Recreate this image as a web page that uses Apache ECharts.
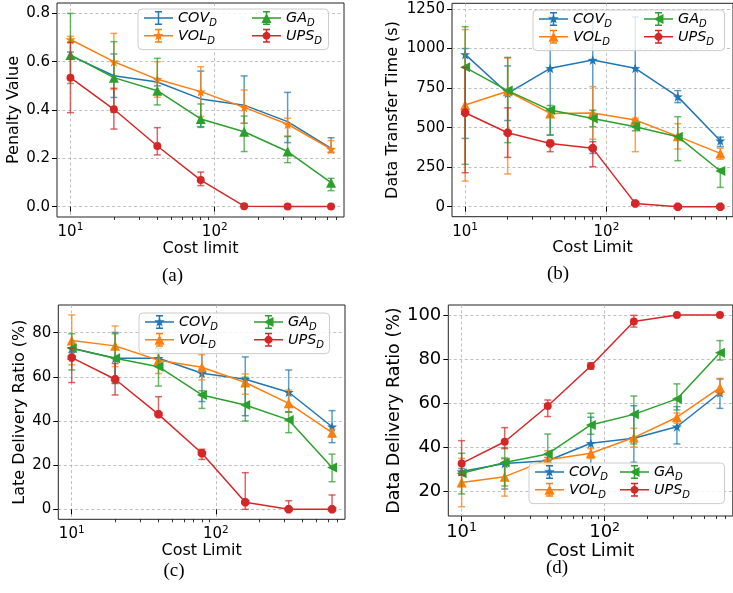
<!DOCTYPE html>
<html><head><meta charset="utf-8">
<script src="https://cdn.jsdelivr.net/npm/echarts@6/dist/echarts.min.js"></script>
<style>html,body{margin:0;padding:0;background:#fff}#c{width:733px;height:593px}</style>
</head><body><div id="c"></div>
<script>
// ---------- data ----------
const costLimits = [10, 20, 40, 80, 160, 320, 640];
const xMajorTicks = [10, 100];
const xMinorTicks = [20, 30, 40, 50, 60, 70, 80, 90, 200, 300, 400, 500, 600, 700];
const methods = ['COV', 'VOL', 'GA', 'UPS'];

// (a) Penalty Value
const penaltyTicks = [0, 0.2, 0.4, 0.6, 0.8];
const penCOV   = [0.625, 0.542, 0.516, 0.446, 0.420, 0.352, 0.241];
const penCOVLo = [0.610, 0.452, 0.500, 0.331, 0.345, 0.265, 0.225];
const penCOVHi = [0.640, 0.632, 0.530, 0.561, 0.541, 0.473, 0.285];
const penVOL   = [0.692, 0.600, 0.527, 0.476, 0.411, 0.341, 0.238];
const penVOLLo = [0.680, 0.485, 0.453, 0.373, 0.345, 0.292, 0.223];
const penVOLHi = [0.705, 0.717, 0.600, 0.579, 0.483, 0.366, 0.273];
const penGA    = [0.628, 0.534, 0.480, 0.363, 0.310, 0.228, 0.099];
const penGALo  = [0.510, 0.390, 0.421, 0.328, 0.228, 0.182, 0.066];
const penGAHi  = [0.800, 0.683, 0.614, 0.425, 0.375, 0.290, 0.117];
const penUPS   = [0.534, 0.403, 0.251, 0.110, 0.002, 0.000, 0.000];
const penUPSLo = [0.389, 0.321, 0.214, 0.087, 0.000, 0.000, 0.000];
const penUPSHi = [0.680, 0.490, 0.327, 0.143, 0.004, 0.000, 0.000];

// (b) Data Transfer Time (s)
const timeTicks = [0, 250, 500, 750, 1000, 1250];
const timeCOV   = [963, 717, 875, 927, 875, 696, 417];
const timeCOVLo = [432, 545, 453, 337, 548, 658, 380];
const timeCOVHi = [1000, 890, 1200, 1200, 1200, 734, 440];
const timeVOL   = [643, 730, 590, 593, 548, 445, 337];
const timeVOLLo = [162, 207, 570, 427, 348, 365, 300];
const timeVOLHi = [1120, 940, 610, 759, 560, 525, 370];
const timeGA    = [881, 734, 611, 558, 506, 443, 226];
const timeGALo  = [268, 405, 453, 506, 480, 291, 122];
const timeGAHi  = [1138, 944, 640, 610, 530, 569, 240];
const timeUPS   = [594, 468, 400, 369, 21, 0, 0];
const timeUPSLo = [215, 312, 348, 253, 8, 0, 0];
const timeUPSHi = [880, 625, 420, 411, 34, 5, 5];

// (c) Late Delivery Ratio (%)
const lateTicks = [0, 20, 40, 60, 80];
const lateCOV   = [72.9, 68.4, 68.4, 61.6, 58.9, 53.0, 37.4];
const lateCOVLo = [71.0, 57.0, 66.0, 48.8, 42.4, 44.2, 30.2];
const lateCOVHi = [75.0, 80.1, 71.0, 74.0, 69.0, 63.1, 44.7];
const lateVOL   = [76.4, 74.0, 67.5, 64.3, 57.4, 48.0, 34.7];
const lateVOLLo = [65.4, 64.6, 61.5, 58.6, 52.1, 44.0, 33.2];
const lateVOLHi = [88.0, 83.0, 73.0, 70.0, 61.3, 54.0, 36.2];
const lateGA    = [72.9, 68.4, 64.6, 51.8, 47.2, 40.5, 18.9];
const lateGALo  = [63.1, 57.0, 55.8, 45.7, 40.0, 34.7, 12.5];
const lateGAHi  = [79.5, 79.5, 73.0, 53.7, 59.8, 44.0, 25.0];
const lateUPS   = [68.7, 58.9, 43.0, 25.4, 3.2, 0.0, 0.0];
const lateUPSLo = [57.4, 51.8, 42.0, 22.6, 0.0, 0.0, 0.0];
const lateUPSHi = [73.0, 66.0, 51.0, 27.2, 16.6, 3.9, 6.5];

// (d) Data Delivery Ratio (%)
const deliveryTicks = [20, 40, 60, 80, 100];
const delCOV   = [29.1, 32.8, 34.0, 41.9, 44.2, 49.4, 64.8];
const delCOVLo = [27.5, 21.2, 32.5, 30.0, 33.3, 41.6, 57.7];
const delCOVHi = [30.5, 35.0, 35.5, 53.7, 58.9, 58.5, 71.0];
const delVOL   = [24.2, 26.8, 34.5, 37.4, 44.5, 53.7, 67.1];
const delVOLLo = [13.2, 18.0, 30.0, 35.0, 40.2, 51.0, 64.0];
const delVOLHi = [35.1, 35.4, 38.5, 39.5, 48.7, 55.6, 71.3];
const delGA    = [28.3, 33.2, 37.1, 50.2, 55.0, 62.0, 82.9];
const delGALo  = [19.0, 22.6, 28.0, 46.0, 41.6, 57.0, 79.6];
const delGAHi  = [37.4, 40.0, 46.1, 55.5, 63.3, 68.8, 88.4];
const delUPS   = [32.8, 42.6, 58.8, 76.9, 97.0, 100, 100];
const delUPSLo = [27.5, 39.5, 54.0, 75.5, 94.5, 100, 100];
const delUPSHi = [43.1, 49.0, 61.5, 78.3, 99.8, 100, 100];

const panelData = {
  a: {COV: [penCOV, penCOVLo, penCOVHi], VOL: [penVOL, penVOLLo, penVOLHi], GA: [penGA, penGALo, penGAHi], UPS: [penUPS, penUPSLo, penUPSHi]},
  b: {COV: [timeCOV, timeCOVLo, timeCOVHi], VOL: [timeVOL, timeVOLLo, timeVOLHi], GA: [timeGA, timeGALo, timeGAHi], UPS: [timeUPS, timeUPSLo, timeUPSHi]},
  c: {COV: [lateCOV, lateCOVLo, lateCOVHi], VOL: [lateVOL, lateVOLLo, lateVOLHi], GA: [lateGA, lateGALo, lateGAHi], UPS: [lateUPS, lateUPSLo, lateUPSHi]},
  d: {COV: [delCOV, delCOVLo, delCOVHi], VOL: [delVOL, delVOLLo, delVOLHi], GA: [delGA, delGALo, delGAHi], UPS: [delUPS, delUPSLo, delUPSHi]}
};

// ---------- style / layout ----------
const colors = {COV: '#1f77b4', VOL: '#ff7f0e', GA: '#2ca02c', UPS: '#d62728'};
const SANS = 'DejaVu Sans';
const X_MIN = 8.07, X_MAX = 787;
const LEG_FS = 14.4, LEG_SUB_FS = 10;

const panels = [
  {id: 'a', grid: {left: 57, top: 3, width: 287, height: 214}, yMin: -0.043, yMax: 0.843, yTicks: penaltyTicks,
   yFmt: v => v.toFixed(1), yName: 'Penalty Value', xName: 'Cost limit', tickFs: 15, nameFs: 16,
   yGap: 35, xGap: 22, legend: {left: 138, top: 9, width: 198, col2: 114}, caption: [172.5, 276],
   markers: {COV: 'none', VOL: 'star', GA: 'triUp', UPS: 'circle'}},
  {id: 'b', grid: {left: 452, top: 3.3, width: 286.5, height: 213.4}, yMin: -63, yMax: 1286, yTicks: timeTicks,
   yFmt: v => String(v), yName: 'Data Transfer Time (s)', xName: 'Cost Limit', tickFs: 15, nameFs: 16,
   yGap: 51, xGap: 22, legend: {left: 533, top: 10, width: 199, col2: 111}, caption: [558, 274],
   markers: {COV: 'star', VOL: 'triUp', GA: 'triLeft', UPS: 'octagon'}},
  {id: 'c', grid: {left: 58.3, top: 305, width: 286.7, height: 214.3}, yMin: -4.5, yMax: 92.5, yTicks: lateTicks,
   yFmt: v => String(v), yName: 'Late Delivery Ratio (%)', xName: 'Cost Limit', tickFs: 15, nameFs: 16,
   yGap: 30, xGap: 23, legend: {left: 139, top: 313, width: 198, col2: 115}, caption: [174, 571.5],
   markers: {COV: 'star', VOL: 'triUp', GA: 'triLeft', UPS: 'octagon'}},
  {id: 'd', grid: {left: 448.3, top: 305, width: 284.5, height: 211}, yMin: 9.0, yMax: 104.5, yTicks: deliveryTicks,
   yFmt: v => String(v), yName: 'Data Delivery Ratio (%)', xName: 'Cost Limit', tickFs: 18, nameFs: 17.5,
   yGap: 43, xGap: 24, legend: {left: 529, top: 463, width: 203, col2: 91}, caption: [557, 568.5],
   markers: {COV: 'star', VOL: 'triUp', GA: 'triLeft', UPS: 'circle'}}
];

// ---------- marker shapes ----------
function polyPath(pts) { return 'M' + pts.map(p => p[0].toFixed(2) + ',' + p[1].toFixed(2)).join('L') + 'Z'; }
function starPts(cx, cy, ro, ri) {
  const pts = [];
  for (let i = 0; i < 10; i++) {
    const a = -Math.PI / 2 + i * Math.PI / 5;
    const r = i % 2 === 0 ? ro : ri;
    pts.push([cx + r * Math.cos(a), cy + r * Math.sin(a)]);
  }
  return pts;
}
function ngonPts(cx, cy, r, n, off) {
  const pts = [];
  for (let i = 0; i < n; i++) {
    const a = off + i * 2 * Math.PI / n;
    pts.push([cx + r * Math.cos(a), cy + r * Math.sin(a)]);
  }
  return pts;
}
function markerPts(kind, cx, cy, s) {
  if (kind === 'star') return starPts(cx, cy, s, s * 0.4);
  if (kind === 'triUp') return [[cx, cy - s], [cx + s, cy + s], [cx - s, cy + s]];
  if (kind === 'triLeft') return [[cx - s, cy], [cx + s, cy - s], [cx + s, cy + s]];
  if (kind === 'circle') return ngonPts(cx, cy, s * 0.85, 24, 0);
  if (kind === 'octagon') return ngonPts(cx, cy, s * 0.9, 8, Math.PI / 8);
  return null;
}
const seriesSymbol = {
  star: 'path://' + polyPath(starPts(50, 50, 50, 20)),
  triUp: 'triangle',
  triLeft: 'path://' + polyPath([[0, 50], [100, 0], [100, 100]]),
  circle: 'circle',
  octagon: 'path://' + polyPath(ngonPts(50, 50, 50, 8, Math.PI / 8)),
  none: 'none'
};
const seriesSymbolSize = {star: 10, triUp: 10, triLeft: 10, circle: 8, octagon: 8.5, none: 0};

// legend handle: line + errorbar + marker, box 29 x 14
function rect(x0, y0, x1, y1) { return polyPath([[x0, y0], [x1, y0], [x1, y1], [x0, y1]]); }
function handleIcon(kind) {
  let p = rect(0, 6.25, 29, 7.75) + rect(13.75, 0, 15.25, 14) + rect(11, 0, 18, 1.5) + rect(11, 12.5, 18, 14);
  const sizes = {star: 5.5, triUp: 5, triLeft: 5, circle: 4.6, octagon: 4.6};
  const mp = markerPts(kind, 14.5, 7, sizes[kind]);
  if (mp) p += polyPath(mp);
  return 'path://' + p;
}

// text measuring (for legend box width)
const mctx = document.createElement('canvas').getContext('2d');
function textW(t, fs) { mctx.font = 'italic ' + fs + 'px "' + SANS + '"'; return mctx.measureText(t).width; }

// ---------- build option ----------
const grids = [], xAxes = [], yAxes = [], series = [], legends = [], graphics = [];
const legendRich = {
  m: {fontFamily: SANS, fontStyle: 'italic', fontSize: LEG_FS, lineHeight: 21.6, color: '#000'},
  s: {fontFamily: SANS, fontStyle: 'italic', fontSize: LEG_SUB_FS, lineHeight: 12, verticalAlign: 'bottom', color: '#000'}
};

panels.forEach((P, i) => {
  grids.push(Object.assign({show: true, borderColor: '#222', borderWidth: 1, backgroundColor: 'transparent', containLabel: false}, P.grid));
  const supFs = Math.round(P.tickFs * 0.7 * 10) / 10;
  xAxes.push({
    type: 'log', logBase: 10, gridIndex: i, min: X_MIN, max: X_MAX, position: 'bottom',
    name: P.xName, nameLocation: 'middle', nameGap: P.xGap,
    nameTextStyle: {fontFamily: SANS, fontSize: P.nameFs, color: '#000'},
    axisLine: {show: false},
    axisTick: {show: true, customValues: xMajorTicks, length: 5, lineStyle: {color: '#000', width: 1}},
    axisLabel: {show: true, customValues: xMajorTicks, margin: 5, color: '#000',
      formatter: v => '{b|10}{e|' + Math.round(Math.log10(v)) + '}',
      rich: {b: {fontFamily: SANS, fontSize: P.tickFs, lineHeight: P.tickFs + 5, color: '#000'},
             e: {fontFamily: SANS, fontSize: supFs, lineHeight: supFs + 1, verticalAlign: 'top', color: '#000'}}},
    splitLine: {show: true, lineStyle: {color: '#b0b0b0', width: 0.8, type: [3, 2.5]}},
    minorTick: {show: false}
  });
  yAxes.push({
    type: 'value', gridIndex: i, min: P.yMin, max: P.yMax,
    name: P.yName, nameLocation: 'middle', nameGap: P.yGap,
    nameTextStyle: {fontFamily: SANS, fontSize: P.nameFs, color: '#000'},
    axisLine: {show: false},
    axisTick: {show: true, customValues: P.yTicks, length: 5, lineStyle: {color: '#000', width: 1}},
    axisLabel: {show: true, customValues: P.yTicks, margin: 7, color: '#000', fontFamily: SANS, fontSize: P.tickFs, formatter: P.yFmt},
    splitLine: {show: true, lineStyle: {color: '#b0b0b0', width: 0.8, type: [3, 2.5]}}
  });

  methods.forEach((m, k) => {
    const [vals, lo, hi] = panelData[P.id][m];
    const col = colors[m];
    series.push({
      type: 'custom', name: m + '_' + P.id + '_err', xAxisIndex: i, yAxisIndex: i,
      z: 2 + 2 * k, silent: true,
      data: costLimits.map((x, j) => [x, lo[j], hi[j]]),
      encode: {x: 0, y: [1, 2]},
      renderItem: (params, api) => {
        const a = api.coord([api.value(0), api.value(1)]);
        const b = api.coord([api.value(0), api.value(2)]);
        const hw = 3.5;
        const st = {stroke: col, lineWidth: 1.5, opacity: 0.72};
        return {type: 'group', children: [
          {type: 'line', shape: {x1: a[0], y1: a[1], x2: b[0], y2: b[1]}, style: st},
          {type: 'line', shape: {x1: a[0] - hw, y1: a[1], x2: a[0] + hw, y2: a[1]}, style: st},
          {type: 'line', shape: {x1: b[0] - hw, y1: b[1], x2: b[0] + hw, y2: b[1]}, style: st}
        ]};
      }
    });
    const mk = P.markers[m];
    series.push({
      type: 'line', name: m + '_' + P.id, xAxisIndex: i, yAxisIndex: i, z: 3 + 2 * k,
      data: costLimits.map((x, j) => [x, vals[j]]),
      symbol: seriesSymbol[mk], symbolSize: seriesSymbolSize[mk], showSymbol: mk !== 'none',
      symbolKeepAspect: false,
      lineStyle: {color: col, width: 1.5}, itemStyle: {color: col, borderWidth: 0},
      emphasis: {disabled: true}
    });
  });

  // legend: two columns (two legend components), first one carries the frame
  const subW = textW('D', LEG_SUB_FS);
  const col1W = 29 + 11.5 + Math.max(textW('COV', LEG_FS), textW('VOL', LEG_FS)) + subW;
  const L = P.legend;
  const common = {
    orient: 'vertical', itemWidth: 29, itemHeight: 14, itemGap: 0, itemTextGap: 11.5,
    selectedMode: false, itemStyle: {borderWidth: 0},
    formatter: name => '{m|' + name.split('_')[0] + '}{s|D}',
    textStyle: {color: '#000', rich: legendRich}
  };
  legends.push(Object.assign({}, common, {
    left: L.left, top: L.top, z: 30,
    padding: [2, Math.max(0, L.width - 6 - col1W - 1), 3, 6],
    backgroundColor: 'rgba(255,255,255,0.8)', borderColor: '#cccccc', borderWidth: 1, borderRadius: 4,
    data: ['COV', 'VOL'].map(m => ({name: m + '_' + P.id, icon: handleIcon(P.markers[m])}))
  }));
  legends.push(Object.assign({}, common, {
    left: L.left + L.col2, top: L.top, z: 31,
    padding: [2, 0, 3, 0], backgroundColor: 'transparent', borderWidth: 0,
    data: ['GA', 'UPS'].map(m => ({name: m + '_' + P.id, icon: handleIcon(P.markers[m])}))
  }));

  graphics.push({type: 'text', x: P.caption[0], y: P.caption[1], z: 40,
    style: {text: '(' + P.id + ')', fontFamily: 'Liberation Serif', fontSize: 19, fill: '#000', textAlign: 'center', textVerticalAlign: 'middle'}});
});

// minor ticks overlay axes
panels.forEach((P, i) => {
  xAxes.push({
    type: 'log', logBase: 10, gridIndex: i, min: X_MIN, max: X_MAX, position: 'bottom', offset: 0,
    axisLine: {show: false},
    axisTick: {show: true, customValues: xMinorTicks, length: 3, lineStyle: {color: '#000', width: 0.8}},
    axisLabel: {show: false},
    splitLine: {show: false}
  });
});

const option = {
  animation: false,
  backgroundColor: '#fff',
  grid: grids, xAxis: xAxes, yAxis: yAxes, series: series, legend: legends,
  graphic: graphics
};
const chart = echarts.init(document.getElementById('c'), null, {renderer: 'canvas'});
chart.setOption(option);
</script></body></html>
